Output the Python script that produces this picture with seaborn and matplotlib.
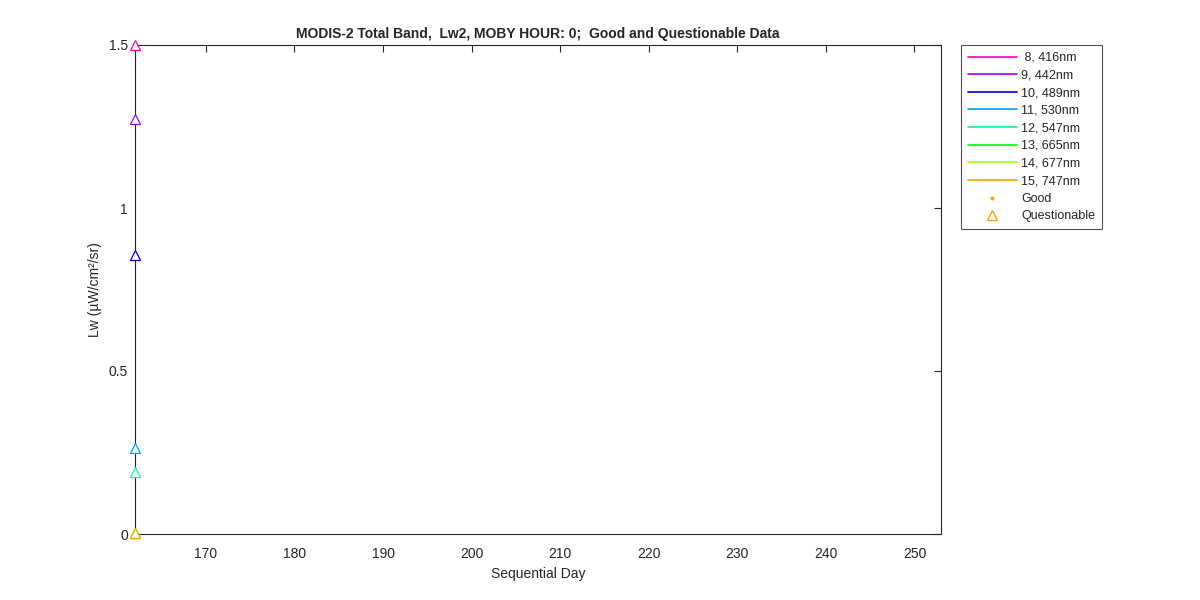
import matplotlib
matplotlib.use("Agg")
import matplotlib.pyplot as plt
from matplotlib.lines import Line2D
import seaborn as sns
import pandas as pd

# band labels, colours and the single (questionable) value per band
bands = ["8, 416nm", "9, 442nm", "10, 489nm", "11, 530nm",
         "12, 547nm", "13, 665nm", "14, 677nm", "15, 747nm"]
band_colors = ["#ff00c0", "#a000ff", "#0000d0", "#00a0ff",
               "#00ffa0", "#00ff00", "#a0ff00", "#ffa500"]
days = [162, 162, 162, 162, 162, 162, 162, 162]
lw_values = [1.50, 1.272, 0.857, 0.263, 0.19, 0.004, 0.004, 0.004]

xticks = [170, 180, 190, 200, 210, 220, 230, 240, 250]
yticks = [0, 0.5, 1, 1.5]
yticklabels = ["0", "0.5", "1", "1.5"]

df = pd.DataFrame({"day": days, "lw": lw_values, "band": bands})

sns.set_style("white")
plt.rcParams["font.family"] = ["Liberation Sans", "DejaVu Sans"]

fig = plt.figure(figsize=(12, 6), dpi=100)
ax = fig.add_axes([0.1125, 0.11, 0.6717, 0.815])

sns.lineplot(data=df, x="day", y="lw", hue="band", hue_order=bands,
             palette=band_colors, marker="^", markersize=7, mfc="white",
             linestyle="", legend=False, ax=ax, clip_on=False, zorder=5)
for line in ax.lines:
    line.set_markeredgecolor(line.get_color())
    line.set_markeredgewidth(0.9)

ax.set_xlim(162, 253)
ax.set_ylim(0, 1.5)
ax.set_xticks(xticks)
ax.set_yticks(yticks)
ax.set_yticklabels(yticklabels)
ax.tick_params(direction="in", top=True, right=True, length=5, width=0.8,
               labelsize=10, colors="#262626")
ax.tick_params(axis="x", pad=9)
ax.tick_params(axis="y", pad=5)
for s in ax.spines.values():
    s.set_color("#262626")
    s.set_linewidth(0.8)

ax.set_xlabel("Sequential Day", fontsize=10, color="#262626", labelpad=5)
ax.set_ylabel("Lw (µW/cm²/sr)", fontsize=10, color="#262626", labelpad=5)
ax.set_title("MODIS-2 Total Band,  Lw2, MOBY HOUR: 0;  Good and Questionable Data",
             fontsize=10, fontweight="bold", pad=5)

handles = [Line2D([], [], color=c, lw=1.2) for c in band_colors]
handles.append(Line2D([], [], color="#ffa500", marker=".", ls="", ms=4))
handles.append(Line2D([], [], color="#ffa500", marker="^", ls="", ms=7, mfc="none"))
labels = [" " + bands[0]] + bands[1:] + ["Good", "Questionable"]
leg = ax.legend(handles, labels, loc="upper left", bbox_to_anchor=(1.025, 1.0),
                fontsize=9, frameon=True, fancybox=False, borderpad=0.55,
                labelspacing=0.45, handlelength=3.9, handletextpad=0.35,
                borderaxespad=0)
leg.get_frame().set_edgecolor("#262626")
leg.get_frame().set_linewidth(0.8)

fig.savefig("out.png", dpi=100)
